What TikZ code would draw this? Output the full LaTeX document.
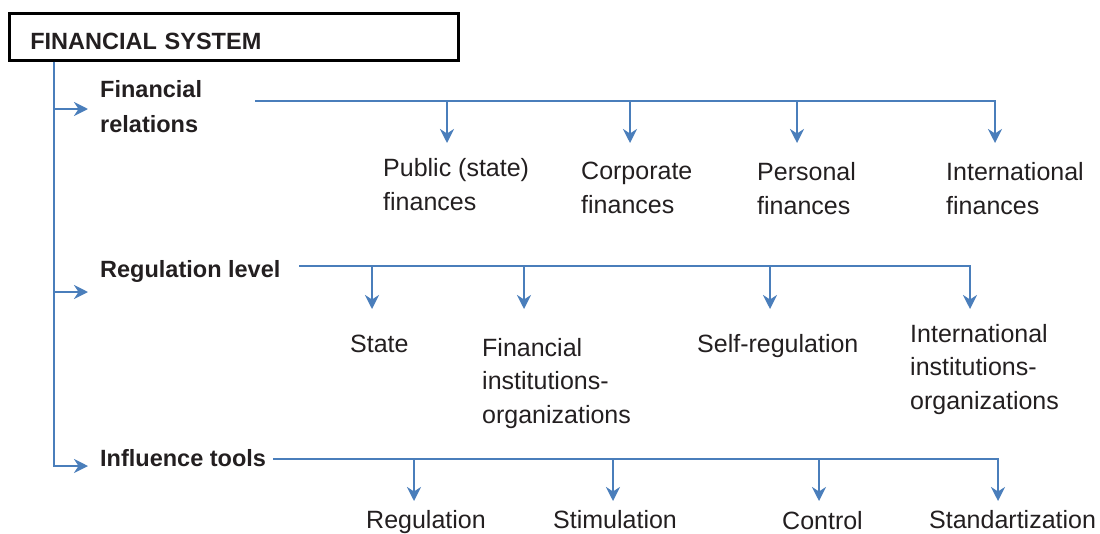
\documentclass[tikz,border=0pt]{standalone}
\usepackage{fontspec}
\setmainfont{Liberation Sans}
\usetikzlibrary{arrows.meta, calc}
\definecolor{xblue}{HTML}{4A7EBB}
\definecolor{xtext}{HTML}{231F20}
\tikzset{
	link/.style = {xblue, line width=2.2pt},
	arrow/.style = {link, -{Stealth[length=14pt, width=14pt, inset=4.5pt]}},
	head/.style = {anchor=base west, inner sep=0pt, text=xtext, align=left,
		font=\bfseries\fontsize{23.5}{35}\selectfont},
	item/.style = {anchor=base west, inner sep=0pt, text=xtext, align=left,
		font=\fontsize{25}{33.5}\selectfont},
}

\begin{document}
\begin{tikzpicture}[x=1pt, y=-1pt]
	\useasboundingbox (0,0) rectangle (1100,533);
	\node[draw=black, line width=2.5pt, anchor=north west, inner xsep=21pt, inner ysep=5pt,
		text width=407pt, text height=31pt, text depth=6pt, text=xtext,
		font=\bfseries\fontsize{23.5}{28}\selectfont] (fin) at (8,12) {FINANCIAL SYSTEM};
	\coordinate (trunk) at ($(fin.south west)+(46,0)$);

	\node[head] (frel) at (100,132) {Financial\\relations};
	\node[head] (rlev) at (100,277) {Regulation level};
	\node[head] (itool) at (100,466) {Influence tools};
	\coordinate (a1) at (88,109);
	\coordinate (a2) at (88,292);
	\coordinate (a3) at (88,466);
	\draw[arrow] (trunk) |- (a3);
	\draw[arrow] (trunk |- a1) -- (a1);
	\draw[arrow] (trunk |- a2) -- (a2);

	\node[item] (pub) at (383,210) {Public (state)\\finances};
	\node[item] (corp) at (581,213) {Corporate\\finances};
	\node[item] (pers) at (757,214) {Personal\\finances};
	\node[item] (intf) at (946,214) {International\\finances};
	\coordinate (b1) at (255,101);
	\foreach \n/\x in {pub/447, corp/630, pers/797, intf/995}
		\coordinate (\n-in) at (\x,143);
	\draw[arrow] (b1) -| (intf-in);
	\foreach \n in {pub, corp, pers}
		\draw[arrow] (b1 -| \n-in) -- (\n-in);

	\node[item] (state) at (350,352) {State};
	\node[item] (fininst) at (482,423) {Financial\\institutions-\\organizations};
	\node[item] (self) at (697,352) {Self-regulation};
	\node[item] (intinst) at (910,409) {International\\institutions-\\organizations};
	\coordinate (b2) at (299,266);
	\foreach \n/\x in {state/372, fininst/524, self/770, intinst/970}
		\coordinate (\n-in) at (\x,309);
	\draw[arrow] (b2) -| (intinst-in);
	\foreach \n in {state, fininst, self}
		\draw[arrow] (b2 -| \n-in) -- (\n-in);

	\node[item] (reg) at (366,528) {Regulation};
	\node[item] (stim) at (553,528) {Stimulation};
	\node[item] (ctrl) at (782,529) {Control};
	\node[item] (std) at (929,528) {Standartization};
	\coordinate (b3) at (273,459);
	\foreach \n/\x in {reg/414, stim/613, ctrl/819, std/998}
		\coordinate (\n-in) at (\x,501);
	\draw[arrow] (b3) -| (std-in);
	\foreach \n in {reg, stim, ctrl}
		\draw[arrow] (b3 -| \n-in) -- (\n-in);
\end{tikzpicture}
\end{document}
